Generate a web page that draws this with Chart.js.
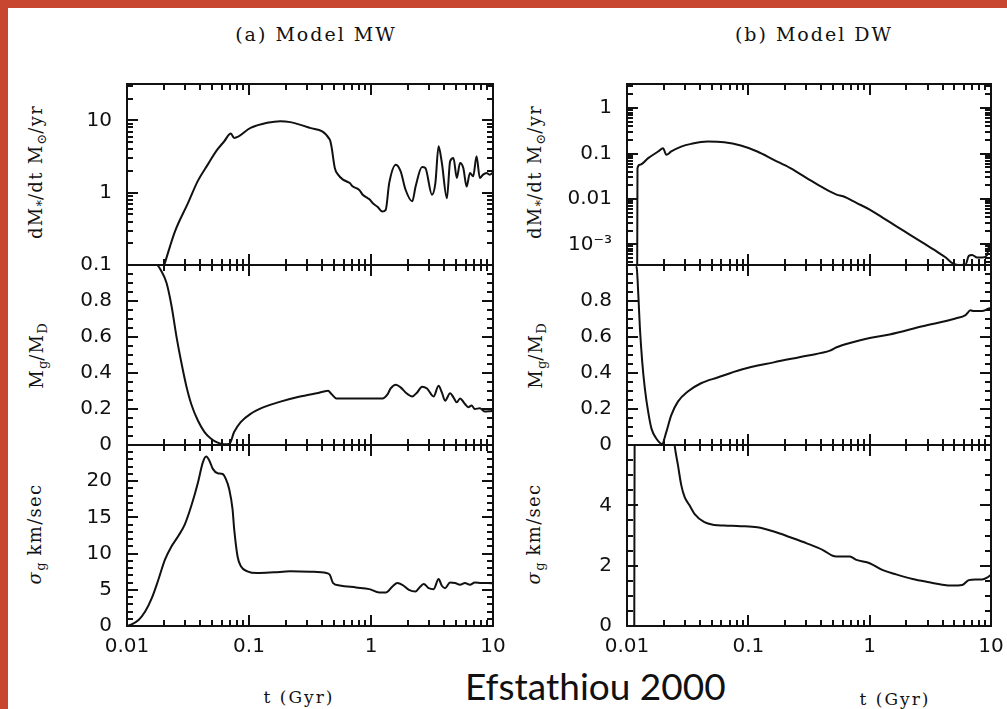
<!DOCTYPE html>
<html>
<head>
<meta charset="utf-8">
<script src="https://cdn.jsdelivr.net/npm/chart.js@4.4.1/dist/chart.umd.min.js"></script>
<style>
  html, body { margin: 0; padding: 0; width: 1007px; height: 709px; overflow: hidden; background: #c8452f; }
  #sheet { position: absolute; left: 8px; top: 8px; width: 999px; height: 701px; background: #fff; }
  canvas { position: absolute; }
  .txt { position: absolute; font-family: "DejaVu Serif", serif; color: #111; white-space: nowrap; line-height: 1; }
  .title { font-size: 19px; letter-spacing: 2px; transform: translate(-50%, -50%); }
  .ytitle { font-size: 18px; letter-spacing: 1.3px; transform: translate(-50%, -50%) rotate(-90deg); }
  .ytitle sub { font-size: 13px; vertical-align: -4px; letter-spacing: 0; }
  .xtitle { font-size: 17px; letter-spacing: 2px; transform: translate(-50%, -50%); }
  .credit { font-family: Lato, "Open Sans", sans-serif; font-size: 37px; color: #111; transform: translateY(-50%); }
</style>
</head>
<body>
<div id="sheet"></div>

<div class="txt title" style="left:316px; top:34px;">(a) Model MW</div>
<div class="txt title" style="left:814px; top:34px;">(b) Model DW</div>

<div class="txt ytitle" style="left:37px; top:172px;">dM<sub>*</sub>/dt M<sub>⊙</sub>/yr</div>
<div class="txt ytitle" style="left:38px; top:356px;">M<sub>g</sub>/M<sub>D</sub></div>
<div class="txt ytitle" style="left:36px; top:534px;"><i>σ</i><sub>g</sub> km/sec</div>
<div class="txt ytitle" style="left:536px; top:172px;">dM<sub>*</sub>/dt M<sub>⊙</sub>/yr</div>
<div class="txt ytitle" style="left:537px; top:356px;">M<sub>g</sub>/M<sub>D</sub></div>
<div class="txt ytitle" style="left:535px; top:534px;"><i>σ</i><sub>g</sub> km/sec</div>

<div class="txt xtitle" style="left:299px; top:697px;">t (Gyr)</div>
<div class="txt xtitle" style="left:895px; top:699px;">t (Gyr)</div>
<div class="txt credit" style="left:465px; top:685px;">Efstathiou 2000</div>

<script>
// x axis (time, Gyr), shared by all six panels
const xMajorTicks = [0.01, 0.1, 1, 10];
const xTickLabels = ['0.01', '0.1', '1', '10'];
const xMinorTicks = [0.02, 0.03, 0.04, 0.05, 0.06, 0.07, 0.08, 0.09,
                     0.2, 0.3, 0.4, 0.5, 0.6, 0.7, 0.8, 0.9,
                     2, 3, 4, 5, 6, 7, 8, 9];

// (a) Model MW — star formation rate
const mwSfrT = [0.017, 0.0202, 0.0247, 0.0316, 0.038, 0.0459, 0.054, 0.0627, 0.071, 0.0755,
                0.103, 0.141, 0.181, 0.218, 0.316, 0.459, 0.474, 0.505, 0.537, 0.589,
                0.64, 0.67, 0.71, 0.78, 0.81, 0.855, 0.94, 0.98, 1.03, 1.13,
                1.24, 1.32, 1.41, 1.60, 1.75, 1.92, 2.18, 2.32, 2.62, 2.79,
                3.16, 3.37, 3.58, 3.81, 4.19, 4.45, 4.74, 5.05, 5.37, 5.71,
                6.08, 6.47, 6.88, 7.33, 7.80, 8.29, 8.83, 9.39, 10];
const mwSfr = [0.04, 0.1, 0.29, 0.72, 1.45, 2.45, 3.8, 5.16, 6.6, 5.74,
               7.9, 9.3, 9.8, 9.5, 7.9, 5.45, 4.4, 2.2, 1.78, 1.52,
               1.42, 1.36, 1.22, 1.13, 1.07, 0.94, 0.84, 0.80, 0.72, 0.64,
               0.55, 0.58, 1.36, 2.45, 1.98, 1.10, 0.76, 1.22, 2.27, 2.2,
               0.94, 1.36, 4.4, 2.58, 0.84, 2.72, 3.03, 1.6, 2.58, 2.2,
               1.22, 1.88, 1.69, 3.2, 1.6, 1.78, 1.88, 1.78, 1.9];

// (a) Model MW — gas fraction
const mwGasT = [0.01, 0.0175, 0.0192, 0.0211, 0.0232, 0.0254, 0.0279, 0.0306, 0.0336, 0.0381,
                0.0432, 0.0489, 0.0554, 0.0627, 0.0689, 0.0755, 0.0855, 0.103, 0.132, 0.181,
                0.247, 0.358, 0.445, 0.474, 0.52, 0.755, 1.24, 1.37, 1.45, 1.60,
                1.75, 1.92, 2.18, 2.39, 2.62, 2.88, 3.26, 3.58, 3.81, 4.05,
                4.45, 4.74, 5.05, 5.37, 5.89, 6.27, 6.67, 7.10, 7.80, 8.55,
                9.39, 10];
const mwGas = [1.0, 1.0, 0.964, 0.90, 0.771, 0.605, 0.458, 0.329, 0.228, 0.136,
               0.072, 0.035, 0.013, 0.004, 0.005, 0.072, 0.127, 0.173, 0.21, 0.241,
               0.265, 0.287, 0.302, 0.283, 0.259, 0.259, 0.259, 0.283, 0.314, 0.335,
               0.32, 0.292, 0.27, 0.292, 0.324, 0.314, 0.27, 0.329, 0.292, 0.246,
               0.287, 0.265, 0.237, 0.259, 0.228, 0.21, 0.219, 0.20, 0.204, 0.186,
               0.188, 0.19];

// (a) Model MW — gas velocity dispersion
const mwSigT = [0.01, 0.01064, 0.01244, 0.01409, 0.01596, 0.01807, 0.02047, 0.02318, 0.02625, 0.02973,
                0.03367, 0.03813, 0.04185, 0.04456, 0.04745, 0.05053, 0.0554, 0.06073, 0.06467, 0.06887,
                0.07334, 0.07568, 0.08059, 0.08582, 0.09685, 0.1169, 0.1596, 0.2178, 0.3162, 0.4316,
                0.4594, 0.4889, 0.5538, 0.755, 0.968, 1.169, 1.324, 1.499, 1.645, 1.806,
                2.046, 2.316, 2.541, 2.705, 2.97, 3.26, 3.58, 3.81, 4.05, 4.45,
                4.89, 5.37, 5.89, 6.47, 7.10, 8.04, 9.10, 10];
const mwSig = [0, 0.14, 0.83, 1.99, 3.84, 6.39, 9.17, 11.0, 12.4, 14.0,
               16.6, 19.8, 22.6, 23.4, 22.8, 21.7, 21.1, 21.0, 20.3, 18.9,
               16.1, 13.3, 9.6, 8.24, 7.55, 7.31, 7.41, 7.55, 7.5, 7.31,
               7.08, 5.93, 5.6, 5.32, 5.09, 4.63, 4.63, 5.46, 5.93, 5.69,
               5.0, 4.77, 5.46, 5.79, 5.23, 5.09, 6.48, 5.56, 5.23, 6.02,
               5.93, 5.69, 5.93, 5.69, 6.02, 5.93, 5.93, 5.9];

// (b) Model DW — star formation rate
const dwSfrT = [0.0121, 0.0122, 0.01277, 0.01494, 0.01803, 0.01982, 0.0211, 0.02317, 0.02797, 0.0338,
                0.0462, 0.0633, 0.0866, 0.1185, 0.162, 0.222, 0.303, 0.416, 0.534, 0.605,
                0.778, 1.0, 1.285, 1.65, 2.12, 2.73, 3.51, 4.24, 4.80, 5.44,
                6.17, 6.56, 6.99, 7.69, 8.44, 9.27, 9.57, 10];
const dwSfr = [0.00001, 0.0477, 0.0565, 0.0791, 0.1106, 0.131, 0.0935, 0.111, 0.142, 0.163,
               0.183, 0.177, 0.150, 0.111, 0.0727, 0.0477, 0.0288, 0.0174, 0.01245, 0.01143,
               0.00817, 0.00583, 0.00384, 0.00252, 0.00166, 0.00109, 0.000714, 0.00051, 0.000384, 0.000347,
               0.000359, 0.000556, 0.000583, 0.00051, 0.00051, 0.000574, 0.000845, 0.0009];

// (b) Model DW — gas fraction
const dwGasT = [0.0118, 0.0120, 0.01239, 0.01277, 0.01334, 0.01403, 0.01494, 0.01591, 0.01749, 0.01946,
                0.0211, 0.02317, 0.02628, 0.03171, 0.04074, 0.05577, 0.0866, 0.162, 0.303, 0.471,
                0.534, 0.687, 1.0, 1.46, 2.73, 5.11, 6.17, 6.78, 7.21, 7.93,
                8.71, 9.57, 10];
const dwGas = [0.99, 0.987, 0.838, 0.651, 0.465, 0.315, 0.185, 0.091, 0.035, 0.006,
               0.073, 0.166, 0.241, 0.297, 0.343, 0.375, 0.418, 0.459, 0.496, 0.524,
               0.543, 0.567, 0.595, 0.614, 0.66, 0.703, 0.722, 0.748, 0.744, 0.744,
               0.746, 0.759, 0.76];

// (b) Model DW — gas velocity dispersion
const dwSigT = [0.01148, 0.0116, 0.02, 0.02466, 0.02628, 0.028, 0.02982, 0.03275, 0.03597, 0.04344,
                0.05242, 0.06327, 0.08651, 0.1185, 0.1622, 0.2218, 0.3034, 0.4155, 0.5017, 0.5686,
                0.6866, 0.7781, 1.0, 1.285, 1.652, 2.261, 3.093, 3.972, 4.797, 5.794,
                6.563, 7.447, 8.439, 9.271, 10];
const dwSig = [0, 9, 10, 6.01, 5.34, 4.67, 4.28, 4.0, 3.72, 3.44,
               3.35, 3.33, 3.31, 3.27, 3.13, 2.94, 2.74, 2.51, 2.32, 2.30,
               2.30, 2.19, 2.08, 1.85, 1.71, 1.56, 1.45, 1.37, 1.34, 1.36,
               1.52, 1.54, 1.54, 1.60, 1.7];

// y axes: labelled ticks, their labels, unlabelled minor ticks
const sfrMwMajor = [0.1, 1, 10];
const sfrMwLabels = ['0.1', '1', '10'];
const sfrMwMinor = [0.2, 0.3, 0.4, 0.5, 0.6, 0.7, 0.8, 0.9, 2, 3, 4, 5, 6, 7, 8, 9, 20, 30];

const sfrDwMajor = [0.001, 0.01, 0.1, 1];
const sfrDwLabels = ['10⁻³', '0.01', '0.1', '1'];
const sfrDwMinor = [0.0004, 0.0005, 0.0006, 0.0007, 0.0008, 0.0009,
                    0.002, 0.003, 0.004, 0.005, 0.006, 0.007, 0.008, 0.009,
                    0.02, 0.03, 0.04, 0.05, 0.06, 0.07, 0.08, 0.09,
                    0.2, 0.3, 0.4, 0.5, 0.6, 0.7, 0.8, 0.9, 2, 3];

const gasMajor = [0, 0.2, 0.4, 0.6, 0.8, 1];
const gasLabels = ['0', '0.2', '0.4', '0.6', '0.8', ''];

const sigMwMajor = [0, 5, 10, 15, 20, 25];
const sigMwLabels = ['0', '5', '10', '15', '20', ''];

const sigDwMajor = [0, 2, 4, 6];
const sigDwLabels = ['0', '2', '4', ''];

const steps = (from, to, step) => {
  const out = [];
  for (let v = from; v <= to + 1e-9; v += step) out.push(+v.toFixed(4));
  return out;
};

const ink = '#111';
const tickFont = { family: '"DejaVu Sans", sans-serif', size: 20 };
const colLeft = [127, 627], colRight = [493, 991];
const rowEdge = [84, 265, 445, 626];

// frame with inward ticks on all four sides, placed through the chart's own scales
function framePlugin(yMajor, yMinor) {
  return {
    id: 'frame',
    afterDraw(chart) {
      const ctx = chart.ctx, a = chart.chartArea;
      const x = chart.scales.x, y = chart.scales.y;
      ctx.save();
      ctx.strokeStyle = ink;
      ctx.lineWidth = 2;
      ctx.strokeRect(a.left, a.top, a.right - a.left, a.bottom - a.top);
      const seg = (x0, y0, x1, y1) => {
        ctx.beginPath(); ctx.moveTo(x0, y0); ctx.lineTo(x1, y1); ctx.stroke();
      };
      const xt = (vals, len) => vals.forEach(v => {
        const p = Math.round(x.getPixelForValue(v));
        seg(p, a.bottom, p, a.bottom - len);
        seg(p, a.top, p, a.top + len);
      });
      const yt = (vals, len) => vals.forEach(v => {
        const p = Math.round(y.getPixelForValue(v));
        seg(a.left, p, a.left + len, p);
        seg(a.right, p, a.right - len, p);
      });
      xt(xMajorTicks, 11); xt(xMinorTicks, 6);
      yt(yMajor, 11); yt(yMinor, 6);
      ctx.restore();
    }
  };
}

function panel(col, row, yAxis, ts, vs) {
  const L = colLeft[col], R = colRight[col], T = rowEdge[row], B = rowEdge[row + 1];
  const isBottom = row === 2;
  const padL = 100, padT = 30, padR = 24, padB = isBottom ? 44 : 30;
  const cv = document.createElement('canvas');
  cv.width = R - L + padL + padR;
  cv.height = B - T + padT + padB;
  cv.style.left = (L - padL) + 'px';
  cv.style.top = (T - padT) + 'px';
  document.body.appendChild(cv);

  new Chart(cv, {
    type: 'line',
    data: {
      datasets: [{
        data: ts.map((t, i) => ({ x: t, y: vs[i] })),
        borderColor: ink,
        borderWidth: 2,
        pointRadius: 0,
        cubicInterpolationMode: 'monotone',
        fill: false
      }]
    },
    options: {
      responsive: false,
      animation: false,
      events: [],
      layout: { padding: { top: padT, right: padR, left: 0, bottom: 0 } },
      plugins: { legend: { display: false }, tooltip: { enabled: false } },
      scales: {
        x: {
          type: 'logarithmic', min: 0.01, max: 10,
          grid: { display: false, drawTicks: false },
          border: { display: false },
          afterBuildTicks: s => { s.ticks = xMajorTicks.map(v => ({ value: v })); },
          afterFit: s => { s.height = padB; },
          ticks: {
            display: isBottom, padding: 9, maxRotation: 0, autoSkip: false,
            font: tickFont, color: ink,
            callback: (v, i) => xTickLabels[i]
          }
        },
        y: {
          type: yAxis.type, min: yAxis.min, max: yAxis.max,
          grid: { display: false, drawTicks: false },
          border: { display: false },
          afterBuildTicks: s => { s.ticks = yAxis.major.map(v => ({ value: v })); },
          afterFit: s => { s.width = padL; },
          ticks: {
            padding: 15, autoSkip: false, font: tickFont, color: ink,
            callback: (v, i) => yAxis.labels[i]
          }
        }
      }
    },
    plugins: [framePlugin(yAxis.major, yAxis.minor)]
  });
}

panel(0, 0, { type: 'logarithmic', min: 0.1, max: 32, major: sfrMwMajor, labels: sfrMwLabels, minor: sfrMwMinor }, mwSfrT, mwSfr);
panel(0, 1, { type: 'linear', min: 0, max: 1, major: gasMajor, labels: gasLabels, minor: steps(0, 1, 0.05) }, mwGasT, mwGas);
panel(0, 2, { type: 'linear', min: 0, max: 25, major: sigMwMajor, labels: sigMwLabels, minor: steps(0, 25, 1) }, mwSigT, mwSig);
panel(1, 0, { type: 'logarithmic', min: 0.00035, max: 3.4, major: sfrDwMajor, labels: sfrDwLabels, minor: sfrDwMinor }, dwSfrT, dwSfr);
panel(1, 1, { type: 'linear', min: 0, max: 1, major: gasMajor, labels: gasLabels, minor: steps(0, 1, 0.05) }, dwGasT, dwGas);
panel(1, 2, { type: 'linear', min: 0, max: 6, major: sigDwMajor, labels: sigDwLabels, minor: steps(0, 6, 0.5) }, dwSigT, dwSig);
</script>
</body>
</html>
